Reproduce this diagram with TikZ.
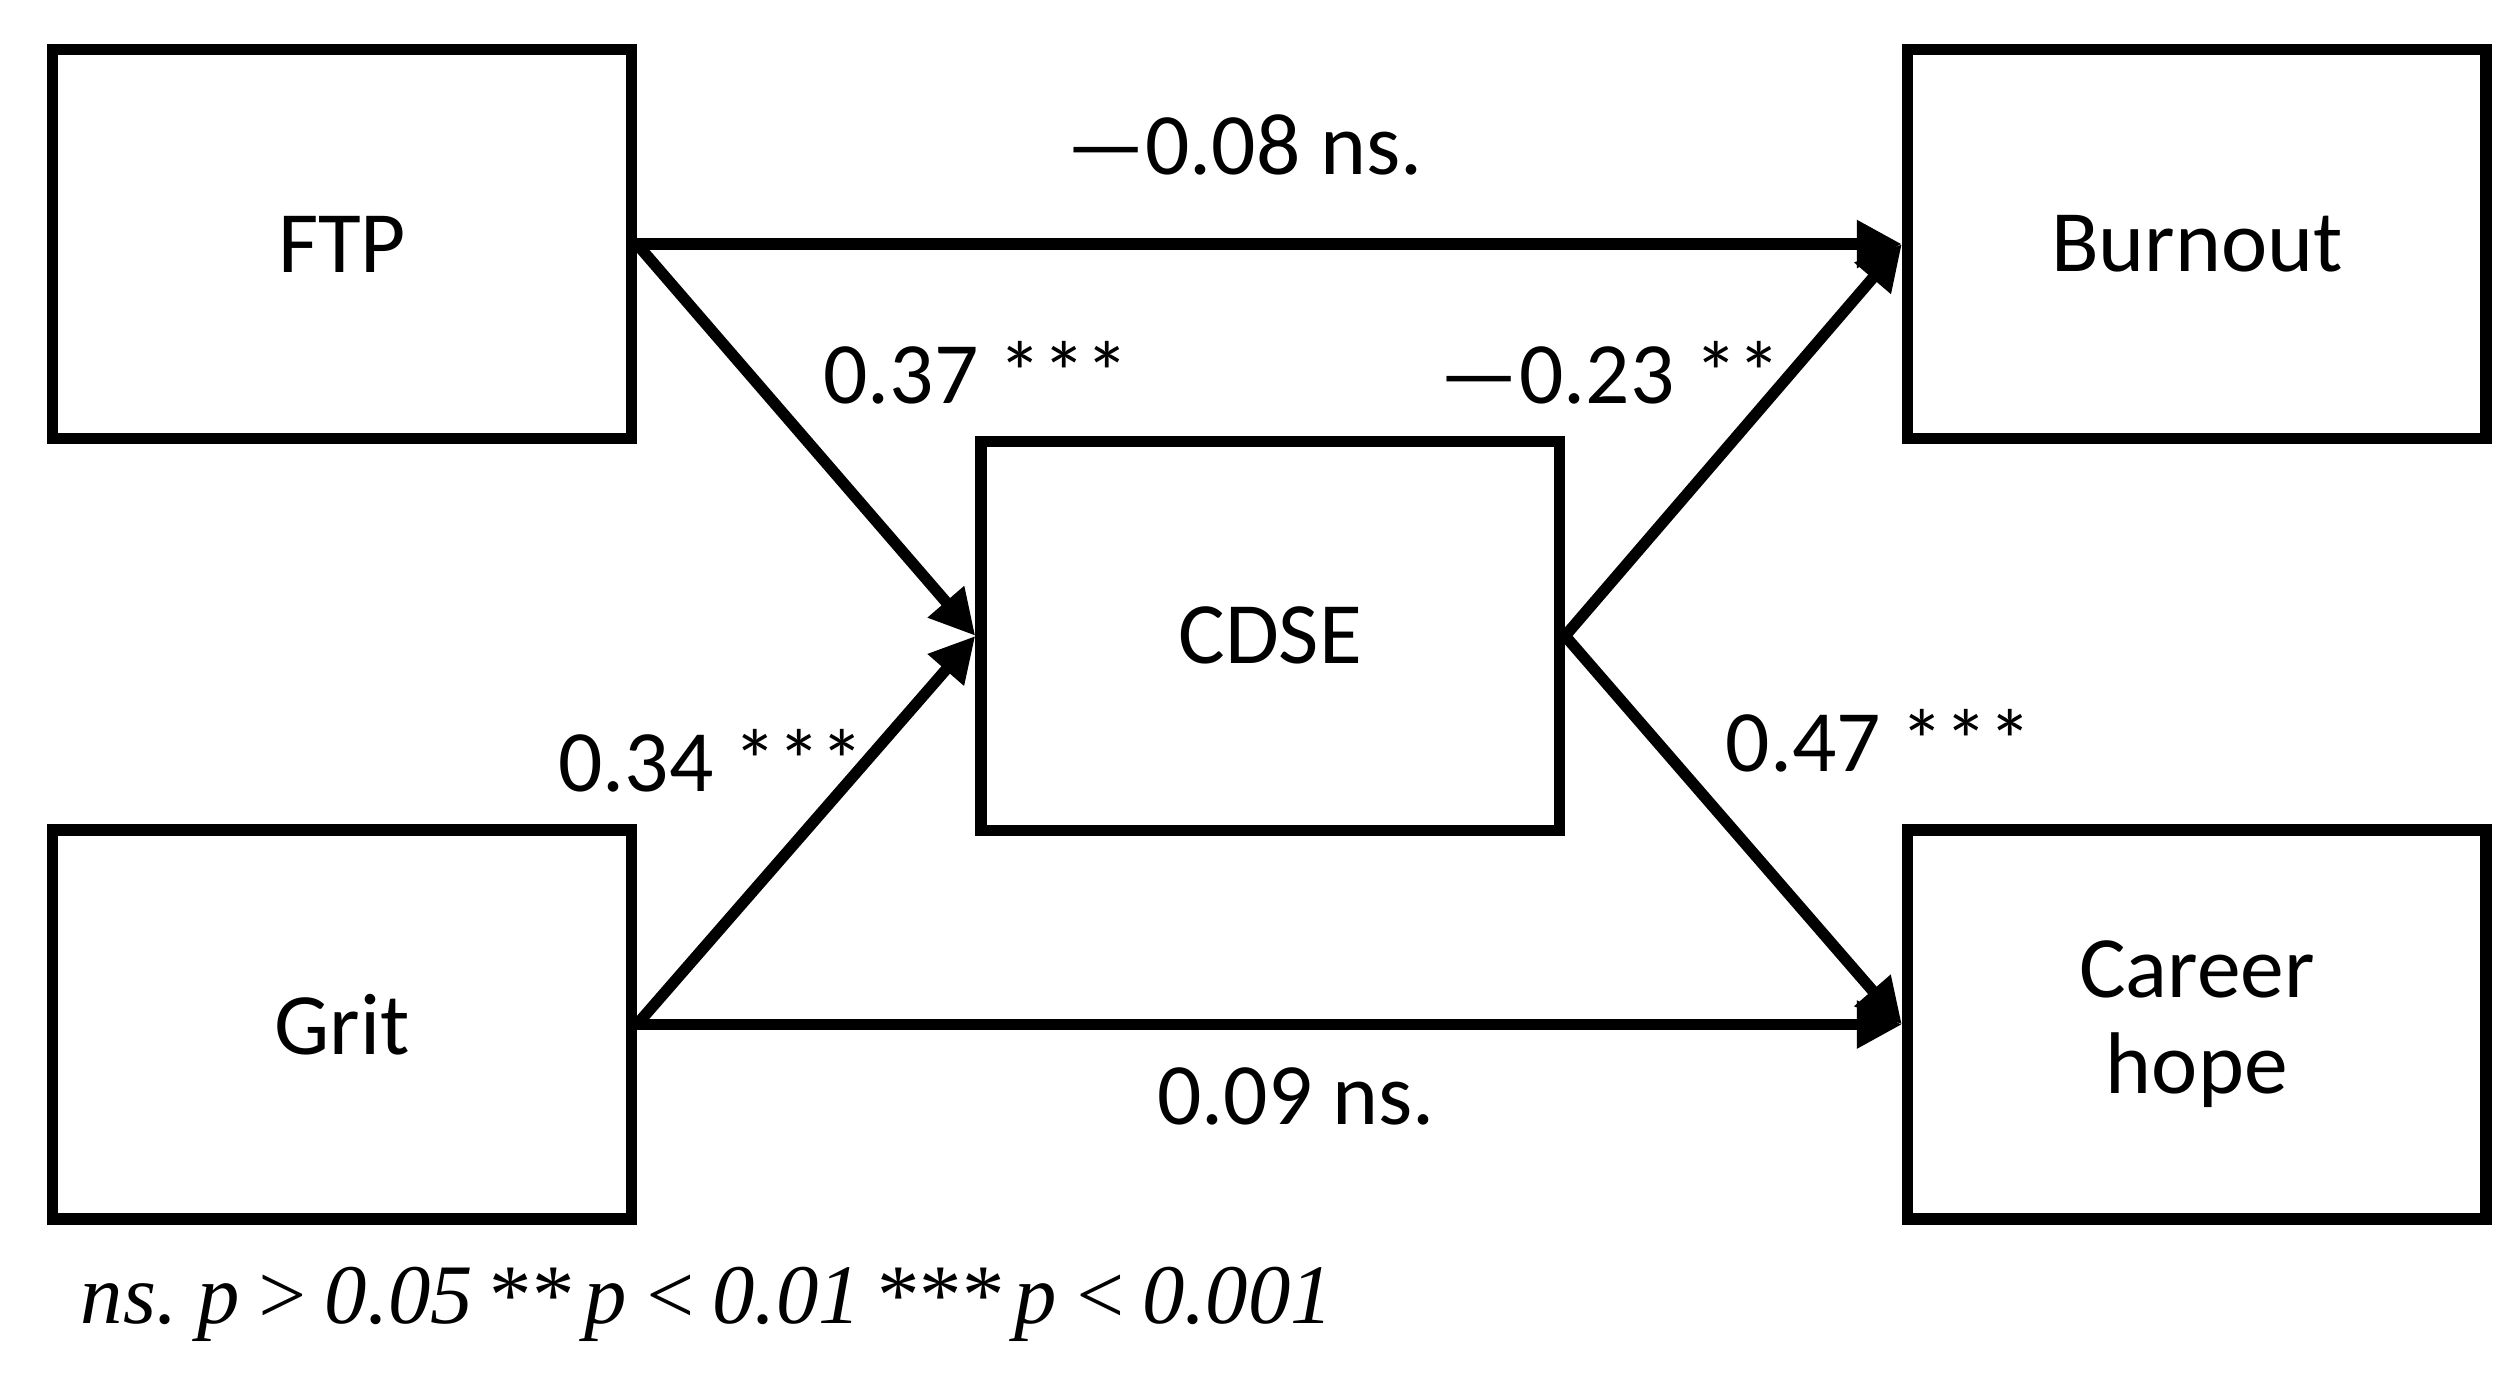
\documentclass[tikz,border=0pt]{standalone}
\usepackage{fontspec}
\setmainfont{Carlito}
\newfontfamily\notefont[WordSpace={0.6}]{Liberation Serif}
\usetikzlibrary{arrows.meta,positioning}

\begin{document}
\begin{tikzpicture}[x=0.01cm,y=-0.01cm,
            box/.style={rectangle, draw=black, line width=2pt, minimum width=3.6cm, minimum height=2.42cm, align=center, font=\fontsize{15.5}{19}\selectfont},
            arrow/.style={-{Triangle[length=8pt,width=8pt]}, line width=2pt},
            lbl/.style={font=\fontsize{15.5}{19}\selectfont}
        ]
        \useasboundingbox (0,0) rectangle (1568,868);

        \node[box] (ftp) at (213,152) {FTP};
        \node[box] (grit) at (213,638) {Grit};
        \node[box] (cdse) at (791,396) {CDSE};
        \node[box] (burnout) at (1368,152) {Burnout};
        \node[box] (hope) at (1368,638) {Career\\[-2pt]hope};

        \draw[arrow] (ftp.east) -- (burnout.west);
        \draw[arrow] (ftp.east) -- (cdse.west);
        \draw[arrow] (grit.east) -- (cdse.west);
        \draw[arrow] (grit.east) -- (hope.west);
        \draw[arrow] (cdse.east) -- (burnout.west);
        \draw[arrow] (cdse.east) -- (hope.west);

        \node[lbl] (l1) at (775,90) {—0.08 ns.};
        \node[lbl] (l2) at (608,232) {0.37 ***};
        \node[lbl] (l3) at (1003,232) {—0.23 **};
        \node[lbl] (l4) at (443,474) {0.34 ***};
        \node[lbl] (l5) at (1170,461) {0.47 ***};
        \node[lbl] (l6) at (807,683) {0.09 ns.};

        \node[anchor=west, font=\notefont\itshape\fontsize{15}{19}\selectfont] (note) at (38,812)
            {ns. p\,>\,0.05 **\,p\,<\,0.01 ***\,p\,<\,0.001};
\end{tikzpicture}
\end{document}
